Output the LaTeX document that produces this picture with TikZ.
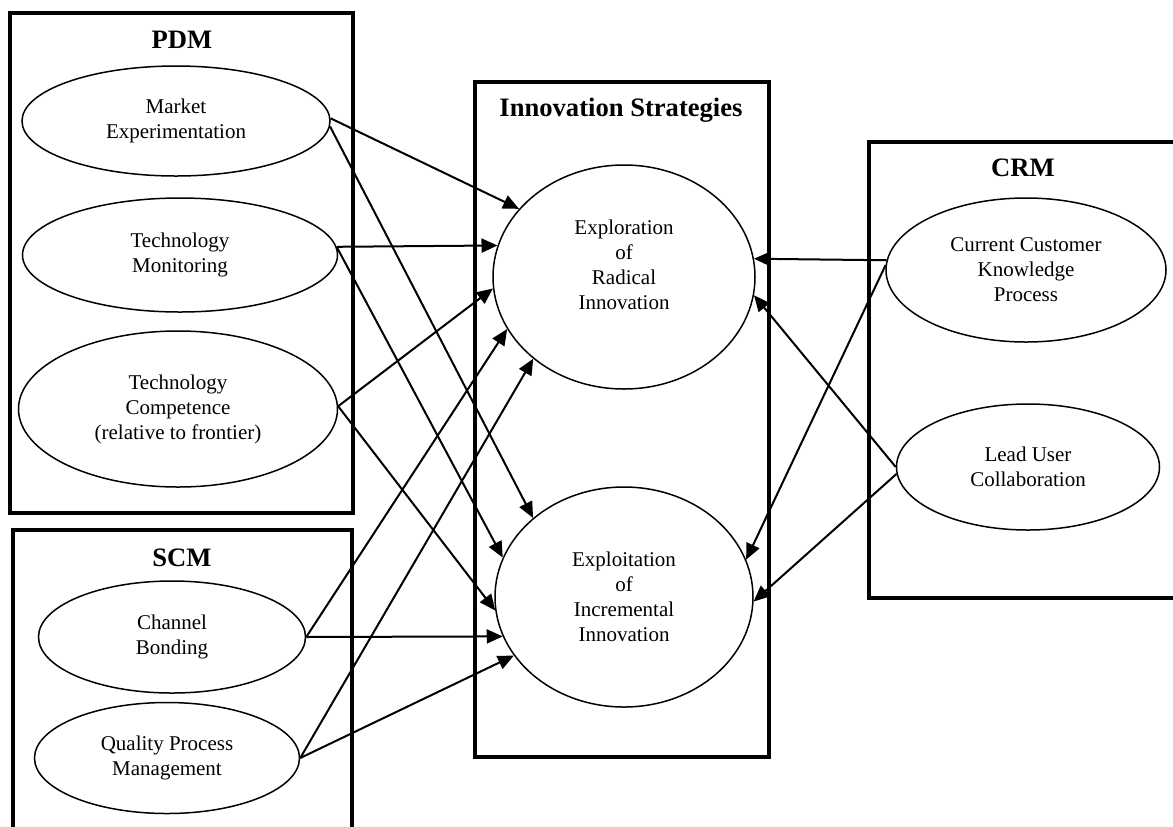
\documentclass[tikz,border=0pt]{standalone}
\usepackage{fontspec}
\setmainfont{Liberation Serif}
\usetikzlibrary{shapes.geometric,arrows.meta}
\tikzset{
  group/.style={line width=1.7pt},
  grouptitle/.style={font=\fontsize{13.3}{15}\selectfont\bfseries},
  factor/.style={draw, ellipse, line width=0.75pt, inner sep=0pt, align=center,
    font=\fontsize{10.5}{12.5}\selectfont},
  link/.style={-{Triangle[length=8pt,width=7pt]}, line width=1pt}
}
\begin{document}
\begin{tikzpicture}[x=0.5pt,y=-0.5pt]
\useasboundingbox (0,0) rectangle (1173,826);
% boxes
\draw[group] (10,13) rectangle (353,513);
\draw[group] (13,530) rectangle (352,840);
\draw[group] (475,82) rectangle (769,757);
\draw[group] (869,142) rectangle (1185,598);
\node[grouptitle] (pdmtitle) at (182,40) {PDM};
\node[grouptitle] (scmtitle) at (182,558) {SCM};
\node[grouptitle] (innotitle) at (621,110) {Innovation Strategies};
\node[grouptitle] (crmtitle) at (1023,168) {CRM};
% PDM
\node[factor, minimum width=154pt, minimum height=55pt] (me) at (176,121) {Market\\Experimentation};
\node[factor, minimum width=157.5pt, minimum height=57pt] (tm) at (180,255) {Technology\\Monitoring};
\node[factor, minimum width=159.5pt, minimum height=78pt] (tc) at (178,409) {Technology\\Competence\\(relative to frontier)};
% SCM
\node[factor, minimum width=133.5pt, minimum height=56pt] (cb) at (172,637) {Channel\\Bonding};
\node[factor, minimum width=132.5pt, minimum height=55.5pt] (qpm) at (167,758) {Quality Process\\Management};
% strategies
\node[factor, minimum width=131pt, minimum height=112pt] (expl) at (624,277) {Exploration\\of\\Radical\\Innovation\\ \mbox{}};
\node[factor, minimum width=129pt, minimum height=110pt] (incr) at (624,597) {Exploitation\\of\\Incremental\\Innovation};
% CRM
\node[factor, minimum width=140pt, minimum height=72pt] (cck) at (1026,270) {Current Customer\\Knowledge\\Process};
\node[factor, minimum width=131.5pt, minimum height=63pt] (lu) at (1028,467) {Lead User\\Collaboration};
% links
\draw[link] (me.1) -- (expl.147);
\draw[link] (me.-2) -- (incr.139);
\draw[link] (tm.3) -- (expl.166);
\draw[link] (tm.3) -- (incr.162);
\draw[link] (tc.1) -- (expl.185);
\draw[link] (tc.1) -- (incr.186);
\draw[link] (cb.east) -- (expl.204);
\draw[link] (cb.east) -- (incr.198);
\draw[link] (qpm.east) -- (expl.222);
\draw[link] (qpm.east) -- (incr.208);
\draw[link] (cck.176) -- (expl.8);
\draw[link] (cck.178) -- (incr.17);
\draw[link] (lu.west) -- (expl.-8);
\draw[link] (lu.183) -- (incr.-2);
\end{tikzpicture}
\end{document}
